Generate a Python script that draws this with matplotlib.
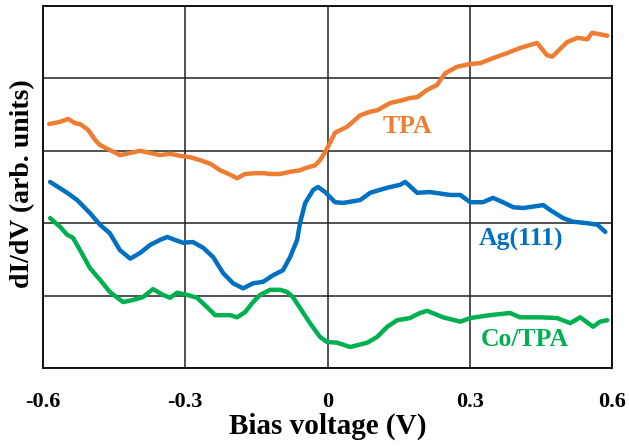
import matplotlib
matplotlib.use("Agg")
import matplotlib.pyplot as plt

# Bias voltage (V) and dI/dV (arb. units)
tpa_v = [-0.587, -0.564, -0.547, -0.532, -0.522, -0.505, -0.490, -0.480, -0.459, -0.446,
         -0.438, -0.416, -0.395, -0.374, -0.353, -0.332, -0.311, -0.289, -0.268, -0.247,
         -0.226, -0.205, -0.191, -0.174, -0.153, -0.132, -0.121, -0.100, -0.079, -0.058,
         -0.047, -0.026, -0.016, -0.005, 0.016, 0.041, 0.069, 0.090, 0.105, 0.132, 0.159,
         0.174, 0.189, 0.210, 0.231, 0.248, 0.273, 0.301, 0.322, 0.349, 0.379, 0.406,
         0.442, 0.463, 0.474, 0.505, 0.527, 0.548, 0.558, 0.590]
tpa_g = [3.37, 3.40, 3.44, 3.38, 3.37, 3.29, 3.15, 3.08, 3.01, 2.97,
         2.94, 2.97, 3.00, 2.97, 2.94, 2.96, 2.93, 2.91, 2.87, 2.82,
         2.73, 2.67, 2.62, 2.68, 2.69, 2.69, 2.68, 2.68, 2.71, 2.73,
         2.76, 2.80, 2.87, 2.98, 3.25, 3.33, 3.49, 3.54, 3.56, 3.66, 3.70,
         3.73, 3.74, 3.84, 3.91, 4.07, 4.16, 4.20, 4.21, 4.28, 4.35, 4.42,
         4.49, 4.32, 4.30, 4.50, 4.56, 4.54, 4.63, 4.59]

ag_v = [-0.585, -0.549, -0.528, -0.501, -0.480, -0.459, -0.438, -0.416, -0.395, -0.374,
        -0.353, -0.338, -0.322, -0.305, -0.284, -0.262, -0.241, -0.220, -0.199, -0.178,
        -0.157, -0.136, -0.115, -0.094, -0.079, -0.064, -0.058, -0.047, -0.030, -0.020,
        -0.005, 0.016, 0.033, 0.069, 0.090, 0.126, 0.153, 0.164, 0.189, 0.216, 0.259,
        0.280, 0.301, 0.328, 0.349, 0.370, 0.392, 0.413, 0.455, 0.470, 0.497, 0.518,
        0.548, 0.569, 0.586]
ag_g = [2.57, 2.42, 2.32, 2.14, 1.98, 1.86, 1.63, 1.51, 1.59, 1.70,
        1.77, 1.81, 1.77, 1.73, 1.74, 1.66, 1.53, 1.31, 1.17, 1.10,
        1.17, 1.19, 1.28, 1.35, 1.53, 1.77, 2.00, 2.28, 2.46, 2.50,
        2.43, 2.29, 2.28, 2.32, 2.42, 2.49, 2.53, 2.57, 2.42, 2.43, 2.39,
        2.39, 2.29, 2.29, 2.35, 2.29, 2.22, 2.21, 2.25, 2.18, 2.07, 2.02,
        2.00, 1.98, 1.88]

co_v = [-0.585, -0.564, -0.549, -0.537, -0.522, -0.501, -0.480, -0.459, -0.431, -0.410,
        -0.389, -0.368, -0.347, -0.332, -0.317, -0.296, -0.275, -0.254, -0.237, -0.205,
        -0.191, -0.174, -0.157, -0.142, -0.121, -0.100, -0.085, -0.073, -0.058, -0.037,
        -0.016, -0.001, 0.020, 0.048, 0.084, 0.105, 0.126, 0.147, 0.174, 0.195, 0.210,
        0.244, 0.280, 0.301, 0.343, 0.385, 0.406, 0.449, 0.484, 0.512, 0.533, 0.560,
        0.575, 0.590]
co_g = [2.07, 1.95, 1.84, 1.80, 1.63, 1.38, 1.22, 1.05, 0.91, 0.94,
        0.98, 1.09, 1.01, 0.97, 1.04, 1.01, 0.97, 0.84, 0.73, 0.73,
        0.70, 0.77, 0.91, 1.01, 1.08, 1.08, 1.05, 0.98, 0.83, 0.62,
        0.43, 0.36, 0.35, 0.29, 0.35, 0.43, 0.57, 0.66, 0.69, 0.76, 0.79,
        0.70, 0.64, 0.69, 0.73, 0.76, 0.70, 0.70, 0.69, 0.62, 0.70, 0.57,
        0.64, 0.66]

x_ticks = [-0.6, -0.3, 0, 0.3, 0.6]
x_tick_labels = ["-0.6", "-0.3", "0", "0.3", "0.6"]

c_tpa = "#ED7D31"
c_ag = "#0070C0"
c_co = "#00B050"

plt.rcParams['font.family'] = ['Liberation Serif', 'DejaVu Serif']

fig = plt.figure(figsize=(6.29, 4.47), dpi=100)
ax = fig.add_axes([43/629, 79/447, 569/629, 362/447])

ax.plot(tpa_v, tpa_g, color=c_tpa, lw=3.2, solid_joinstyle='round', solid_capstyle='round')
ax.plot(ag_v, ag_g, color=c_ag, lw=3.2, solid_joinstyle='round', solid_capstyle='round')
ax.plot(co_v, co_g, color=c_co, lw=3.2, solid_joinstyle='round', solid_capstyle='round')

ax.set_xlim(-0.6, 0.6)
ax.set_ylim(0, 5)
ax.set_xticks(x_ticks)
ax.set_xticklabels(x_tick_labels, fontsize=16, fontweight='bold')
ax.set_yticks([0, 1, 2, 3, 4, 5])
ax.set_yticklabels([])
ax.tick_params(length=0, pad=17)
ax.grid(True, color='#222222', lw=1.1)
ax.set_axisbelow(True)
for s in ax.spines.values():
    s.set_color('#111111')
    s.set_linewidth(1.4)

ax.set_xlabel("Bias voltage (V)", fontsize=21, fontweight='bold')
ax.xaxis.set_label_coords(0.5, (368 - 413) / 362)
ax.set_ylabel("dI/dV (arb. units)", fontsize=20, fontweight='bold', va='center')
ax.yaxis.set_label_coords((23 - 43) / 569, 0.5 + (368 - 184 - 181) / 362)

ax.text(0.168, 3.33, "TPA", color=c_tpa, fontsize=18.5, fontweight='bold', ha='center', va='center')
ax.text(0.408, 1.78, "Ag(111)", color=c_ag, fontsize=18.5, fontweight='bold', ha='center', va='center')
ax.text(0.417, 0.40, "Co/TPA", color=c_co, fontsize=18.5, fontweight='bold', ha='center', va='center')

fig.savefig("out.png", dpi=100)
